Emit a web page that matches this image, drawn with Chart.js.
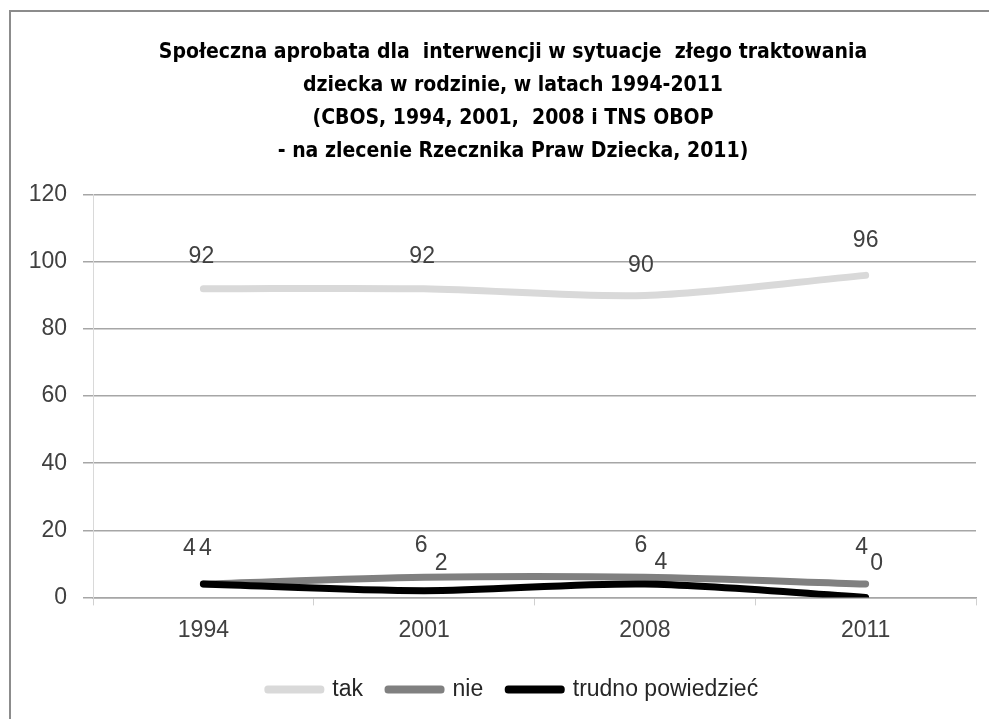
<!DOCTYPE html>
<html>
<head>
<meta charset="utf-8">
<script src="https://cdn.jsdelivr.net/npm/chart.js@4/dist/chart.umd.min.js"></script>
<style>
  html, body { margin: 0; padding: 0; background: #fff; overflow: hidden; }
  #frame {
    position: absolute; left: 9px; top: 10px; width: 1000px; height: 720px;
    border-left: 2px solid #8c8c8c; border-top: 2px solid #8c8c8c;
  }
  #myChart { position: absolute; left: 0; top: 0; }
</style>
</head>
<body>
<div id="frame"></div>
<canvas id="myChart" width="998" height="719"></canvas>
<script>
const years = ['1994', '2001', '2008', '2011'];

const takValues = [92, 92, 90, 96];
const nieValues = [4, 6, 6, 4];
const trudnoValues = [4, 2, 4, 0];

const yTicks = [0, 20, 40, 60, 80, 100, 120];

const titleLines = [
  'Społeczna aprobata dla  interwencji w sytuacje  złego traktowania',
  'dziecka w rodzinie, w latach 1994-2011',
  '(CBOS, 1994, 2001,  2008 i TNS OBOP',
  '- na zlecenie Rzecznika Praw Dziecka, 2011)'
];

const baseFont = "'Liberation Sans', Arial, sans-serif";

// value labels next to each point, nudged per point like the original
const pointLabels = {
  id: 'pointLabels',
  afterDatasetsDraw(chart) {
    const ctx = chart.ctx;
    ctx.save();
    ctx.font = '23px ' + baseFont;
    ctx.fillStyle = '#404040';
    ctx.textAlign = 'center';
    ctx.textBaseline = 'middle';
    chart.data.datasets.forEach((ds, i) => {
      const meta = chart.getDatasetMeta(i);
      meta.data.forEach((pt, j) => {
        const off = ds.labelOffsets[j];
        ctx.fillText(String(ds.data[j]), pt.x + off[0], pt.y + off[1]);
      });
    });
    ctx.restore();
  }
};

const data = {
  labels: years,
  datasets: [{
    label: 'tak',
    data: takValues,
    borderColor: '#d9d9d9',
    backgroundColor: '#d9d9d9',
    order: 3,
    labelOffsets: [[-2, -32], [-2, -32], [-4, -30], [0, -35]]
  }, {
    label: 'nie',
    data: nieValues,
    borderColor: '#808080',
    backgroundColor: '#808080',
    order: 2,
    labelOffsets: [[-14, -35], [-3, -32], [-4, -32], [-4, -36]]
  }, {
    label: 'trudno powiedzieć',
    data: trudnoValues,
    borderColor: '#000000',
    backgroundColor: '#000000',
    order: 1,
    labelOffsets: [[2, -35], [17, -27], [16, -21], [11, -34]]
  }]
};

const config = {
  type: 'line',
  data,
  plugins: [pointLabels],
  options: {
    responsive: false,
    animation: false,
    layout: { padding: { left: 28, right: 0, top: 0, bottom: 8 } },
    elements: {
      line: { borderWidth: 7, tension: 0.3, borderCapStyle: 'round', borderJoinStyle: 'round' },
      point: { radius: 0 }
    },
    scales: {
      x: {
        offset: true,
        grid: { display: true, drawOnChartArea: false, drawTicks: true, tickLength: 8, color: '#d0d0d0', offset: true },
        border: { display: true, color: '#a6a6a6', width: 1.5 },
        ticks: { color: '#404040', font: { family: baseFont, size: 23 }, padding: 11 },
        afterFit: (scale) => { scale.height -= 2; }
      },
      y: {
        min: 0,
        max: 120,
        afterBuildTicks: (scale) => { scale.ticks = yTicks.map(v => ({ value: v })); },
        grid: { color: '#a6a6a6', lineWidth: 1.5, tickLength: 10 },
        border: { display: true, color: '#d9d9d9', width: 1 },
        ticks: { color: '#404040', font: { family: baseFont, size: 23 }, padding: 16 },
        afterFit: (scale) => { scale.width = 65; }
      },
      // empty strip on the right so the title and legend sit centred on the frame
      side: {
        position: 'right',
        display: true,
        grid: { display: false },
        border: { display: false },
        ticks: { display: false },
        afterFit: (scale) => { scale.width = 22; }
      }
    },
    plugins: {
      title: {
        display: true,
        text: titleLines,
        color: '#000',
        font: { family: "'Liberation Sans Narrow', 'DejaVu Sans Condensed', sans-serif", size: 21, weight: 'bold', lineHeight: 1.57 },
        padding: { top: 36.5, bottom: 26.5 }
      },
      legend: {
        position: 'bottom',
        reverse: true,
        labels: {
          color: '#262626',
          font: { family: baseFont, size: 23 },
          boxWidth: 53,
          boxHeight: 1,
          padding: 25
        }
      },
      tooltip: { enabled: false }
    }
  }
};

var myChart = new Chart(
  document.getElementById('myChart'),
  config
);
</script>
</body>
</html>
